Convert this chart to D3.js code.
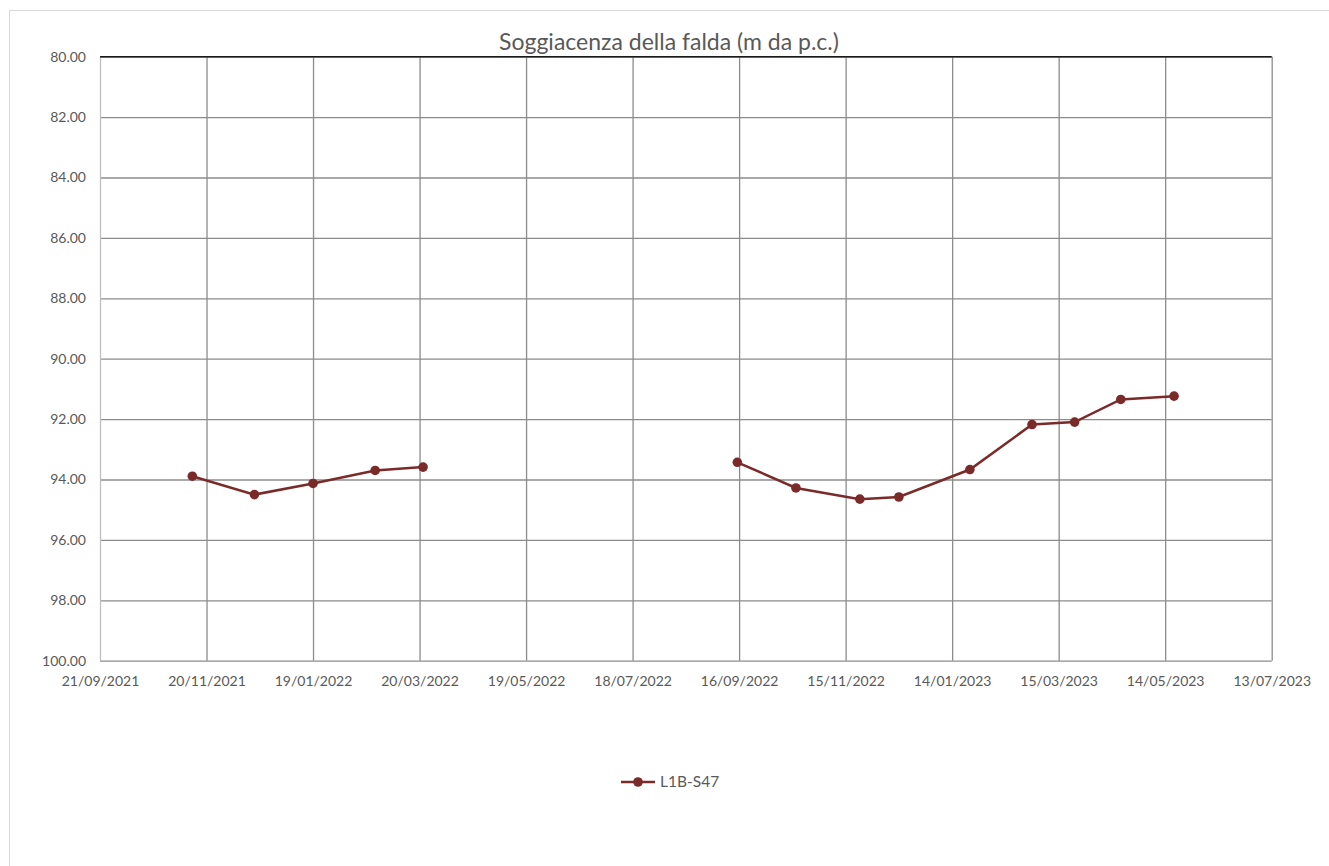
<!DOCTYPE html>
<meta charset="utf-8">
<style>
body { margin: 0; background: #fff; }
svg text { font-family: Lato, "Open Sans", sans-serif; fill: #595959; }
.grid line { stroke: #8c8c8c; stroke-width: 1.3; }
.line { fill: none; stroke: #7b2a2a; stroke-width: 2.5; }
.dot { fill: #7b2a2a; }
</style>
<body></body>
<script src="https://d3js.org/d3.v7.min.js"></script>
<script>
// survey dates and depth to water (null = no reading, breaks the line)
var dates = ["2021-11-12", "2021-12-17", "2022-01-19", "2022-02-23", "2022-03-22",
             "2022-06-20",
             "2022-09-15", "2022-10-18", "2022-11-23", "2022-12-15", "2023-01-24",
             "2023-02-28", "2023-03-24", "2023-04-19", "2023-05-19"];
var depths = [93.89, 94.50, 94.13, 93.70, 93.59,
              null,
              93.43, 94.28, 94.65, 94.58, 93.67,
              92.18, 92.10, 91.35, 91.24];
var xTickLabels = ["21/09/2021", "20/11/2021", "19/01/2022", "20/03/2022", "19/05/2022",
                   "18/07/2022", "16/09/2022", "15/11/2022", "14/01/2023", "15/03/2023",
                   "14/05/2023", "13/07/2023"];
var yTicks = [80, 82, 84, 86, 88, 90, 92, 94, 96, 98, 100];
var seriesName = "L1B-S47";
var title = "Soggiacenza della falda (m da p.c.)";

var W = 1329, H = 866;
var margin = {top: 56.7, left: 100, right: W - 1271.7, bottom: H - 660.7};
var width = W - margin.left - margin.right,
    height = H - margin.top - margin.bottom;

var parse = d3.timeParse("%Y-%m-%d"),
    parseTick = d3.timeParse("%d/%m/%Y");
var data = dates.map(function(d, i) { return {date: parse(d), value: depths[i]}; });
var tickDates = xTickLabels.map(parseTick);

var x = d3.scaleTime()
    .domain([tickDates[0], tickDates[tickDates.length - 1]])
    .range([0, width]);
// depth grows downward
var y = d3.scaleLinear()
    .domain([80, 100])
    .range([0, height]);

var root = d3.select("body").append("svg")
    .attr("width", W)
    .attr("height", H);

// chart frame
root.append("rect")
    .attr("x", 9.5).attr("y", 10.5)
    .attr("width", W + 20).attr("height", H + 20)
    .attr("fill", "none")
    .attr("stroke", "#d9d9d9");

var svg = root.append("g")
    .attr("transform", "translate(" + margin.left + "," + margin.top + ")");

// horizontal gridlines + y labels
var yAxis = d3.axisLeft(y)
    .tickValues(yTicks)
    .tickSize(-width)
    .tickFormat(d3.format(".2f"));
var gy = svg.append("g").attr("class", "grid").call(yAxis);
gy.select(".domain").remove();
gy.selectAll("text").attr("x", -14).style("font-size", "14px");

// vertical gridlines + x labels
var xAxis = d3.axisBottom(x)
    .tickValues(tickDates)
    .tickSize(-height)
    .tickFormat(function(d, i) { return xTickLabels[i]; });
var gx = svg.append("g").attr("class", "grid")
    .attr("transform", "translate(0," + height + ")")
    .call(xAxis);
gx.select(".domain").remove();
gx.selectAll("text").attr("y", 15).attr("dy", "0.71em").style("font-size", "14px");
gx.selectAll(".tick line").filter(function(d, i) { return i === 0; })
    .style("stroke", "#bfbfbf");

// top border (reversed axis) drawn dark
svg.append("line")
    .attr("x1", 0).attr("x2", width)
    .attr("y1", y(80)).attr("y2", y(80))
    .attr("stroke", "#1a1a1a").attr("stroke-width", 1.6);

var line = d3.line()
    .defined(function(d) { return d.value !== null; })
    .x(function(d) { return x(d.date); })
    .y(function(d) { return y(d.value); });

svg.append("path")
    .datum(data)
    .attr("class", "line")
    .attr("d", line);

svg.selectAll(".dot")
    .data(data.filter(function(d) { return d.value !== null; }))
  .enter().append("circle")
    .attr("class", "dot")
    .attr("cx", function(d) { return x(d.date); })
    .attr("cy", function(d) { return y(d.value); })
    .attr("r", 4.8);

// title
root.append("text")
    .attr("x", 669)
    .attr("y", 50)
    .attr("text-anchor", "middle")
    .style("font-size", "23px")
    .text(title);

// legend
var lg = root.append("g").attr("transform", "translate(621,782)");
lg.append("line")
    .attr("x1", 0).attr("x2", 34)
    .attr("stroke", "#7b2a2a").attr("stroke-width", 2.5);
lg.append("circle").attr("class", "dot").attr("cx", 17).attr("r", 4.8);
lg.append("text")
    .attr("x", 39).attr("dy", "0.35em")
    .style("font-size", "15.5px")
    .text(seriesName);
</script>
